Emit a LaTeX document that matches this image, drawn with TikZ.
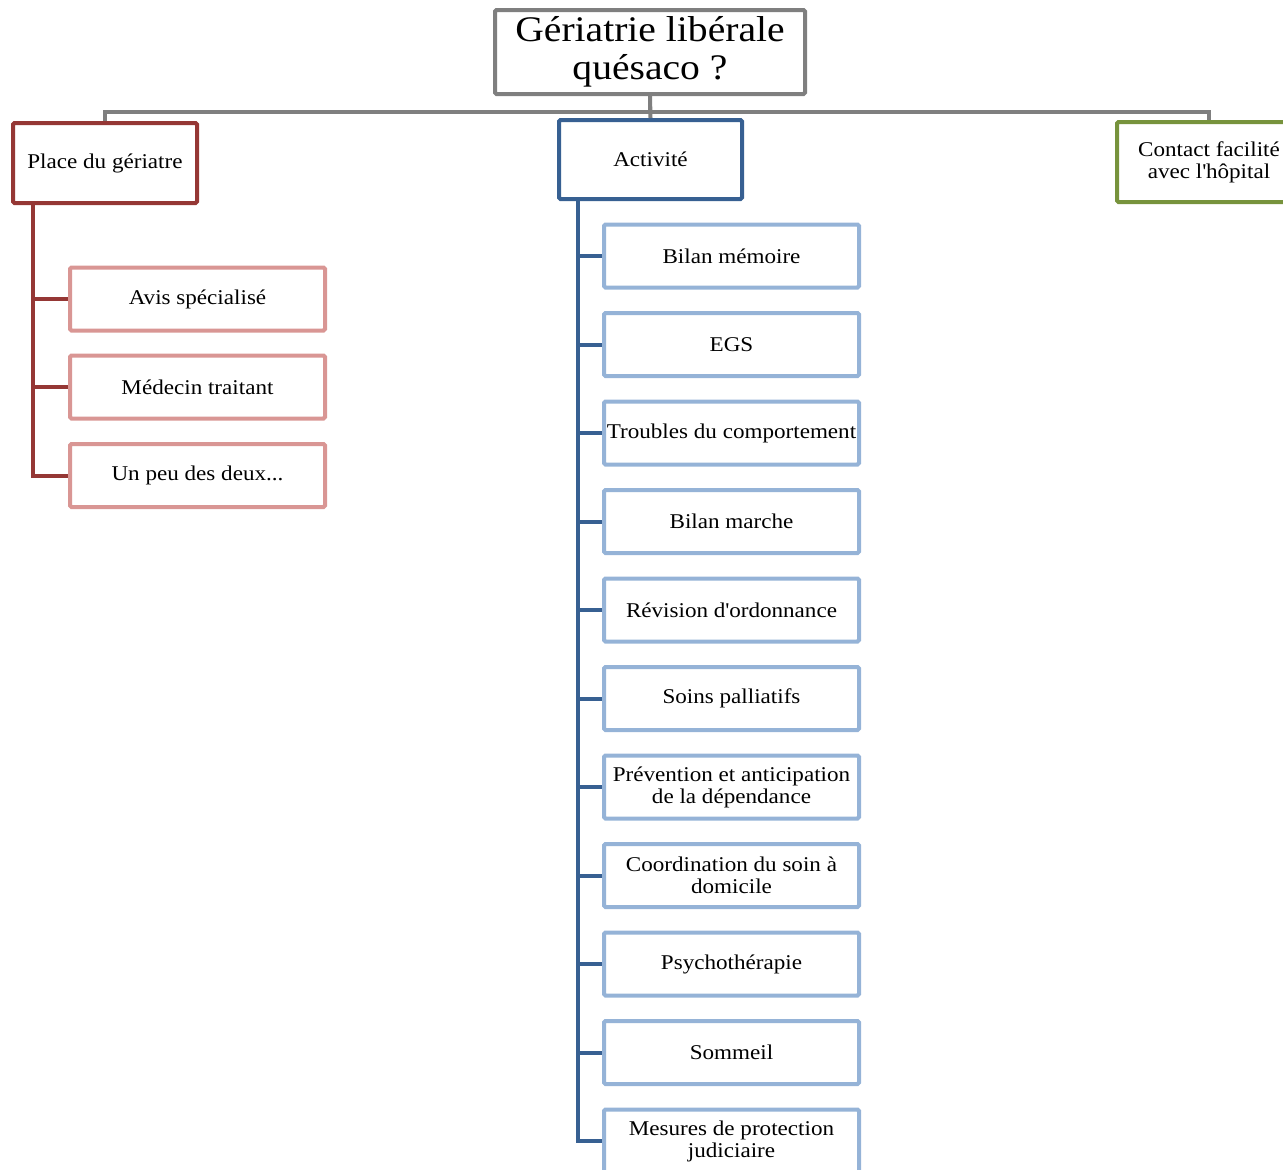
\documentclass[tikz,border=0pt]{standalone}
\usepackage{fontspec}
\setmainfont{Liberation Serif}[FakeStretch=1.1]
\usetikzlibrary{calc}
\definecolor{cgray}{HTML}{7F7F7F}
\definecolor{cdred}{HTML}{953735}
\definecolor{cpink}{HTML}{D99694}
\definecolor{cblue}{HTML}{376092}
\definecolor{clblue}{HTML}{95B3D7}
\definecolor{cgreen}{HTML}{77933C}
\begin{document}
\begin{tikzpicture}[x=1pt,y=-1pt,
  box/.style={draw,line width=4pt,rounded corners=1.5pt,fill=white,inner sep=1pt,align=center,
    font=\fontsize{21}{22}\selectfont},
  redchild/.style={box,draw=cpink,minimum width=255pt,minimum height=63pt},
  bluechild/.style={box,draw=clblue,minimum width=255pt,minimum height=63pt},
  gline/.style={draw=cgray,line width=4pt},
  rline/.style={draw=cdred,line width=4pt},
  bline/.style={draw=cblue,line width=4pt}]
\useasboundingbox (0,0) rectangle (1283,1170);
% title
\node[box,draw=cgray,minimum width=310pt,minimum height=84pt,font=\fontsize{36}{38}\selectfont] (title) at (650,52) {Gériatrie libérale\\quésaco ?};
% level 1
\node[box,draw=cdred,minimum width=184pt,minimum height=80pt] (place) at (105,163) {Place du gériatre};
\node[box,draw=cblue,minimum width=183pt,minimum height=79pt] (act) at (650.5,159.5) {Activité};
\node[box,draw=cgreen,minimum width=184pt,minimum height=80pt] (contact) at (1209,162) {Contact facilité\\avec l\textquotesingle hôpital};
% connectors from title
\coordinate (bar) at ($(title.south)+(0,16)$);
\draw[gline] (title.south) -- (bar) -| (place.north);
\draw[gline] (bar) -| (contact.north);
\draw[gline] (title.south) -- (act.north);
% red children
\node[redchild] (r1) at (197.5,299) {Avis spécialisé};
\node[redchild] (r2) at (197.5,387) {Médecin traitant};
\node[redchild] (r3) at (197.5,475.5) {Un peu des deux...};
\coordinate (rt) at ($(place.south west)+(22,0)$);
\draw[rline] (rt) |- (r3.west);
\draw[rline] (rt) |- (r1.west);
\draw[rline] (rt) |- (r2.west);
% blue children
\node[bluechild] (b1) at (731.5,256) {Bilan mémoire};
\node[bluechild] (b2) at (731.5,344.5) {EGS};
\node[bluechild] (b3) at (731.5,433) {Troubles du comportement};
\node[bluechild] (b4) at (731.5,521.5) {Bilan marche};
\node[bluechild] (b5) at (731.5,610) {Révision d\textquotesingle ordonnance};
\node[bluechild] (b6) at (731.5,698.5) {Soins palliatifs};
\node[bluechild] (b7) at (731.5,787) {Prévention et anticipation\\de la dépendance};
\node[bluechild] (b8) at (731.5,875.5) {Coordination du soin à\\domicile};
\node[bluechild] (b9) at (731.5,964) {Psychothérapie};
\node[bluechild] (b10) at (731.5,1052.5) {Sommeil};
\node[bluechild] (b11) at (731.5,1141) {Mesures de protection\\judiciaire};
\coordinate (bt) at ($(act.south west)+(21,0)$);
\draw[bline] (bt) |- (b11.west);
\foreach \i in {1,...,10} { \draw[bline] (bt) |- (b\i.west); }
\end{tikzpicture}
\end{document}
